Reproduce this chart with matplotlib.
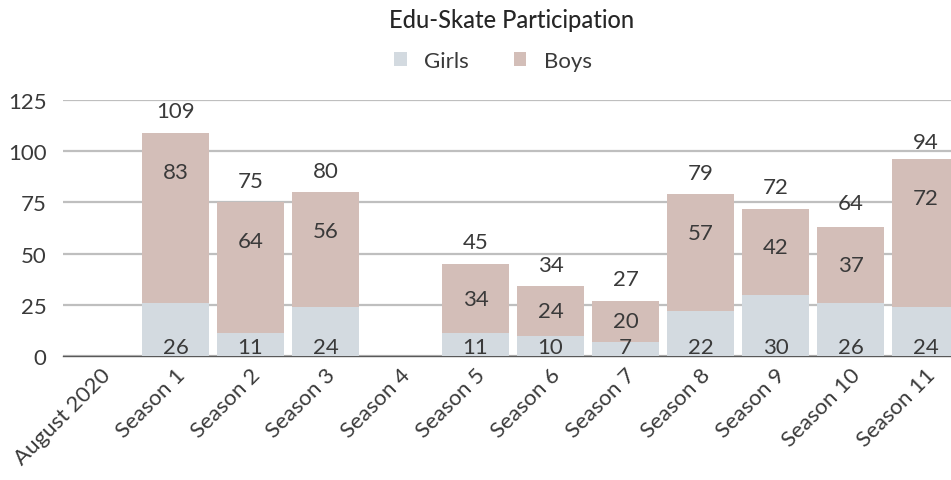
import numpy as np
import matplotlib as mpl
mpl.use('Agg')
import matplotlib.pyplot as plt
from matplotlib.patches import Patch

categories = ["August 2020", "Season 1", "Season 2", "Season 3", "Season 4",
              "Season 5", "Season 6", "Season 7", "Season 8", "Season 9",
              "Season 10", "Season 11"]
girls = [0, 26, 11, 24, 0, 11, 10, 7, 22, 30, 26, 24]
boys = [0, 83, 64, 56, 0, 34, 24, 20, 57, 42, 37, 72]
totals = [None, 109, 75, 80, None, 45, 34, 27, 79, 72, 64, 94]
yticks = [0, 25, 50, 75, 100, 125]

GIRL_C = "#D3DAE0"
BOY_C = "#D3BEB8"
TXT = "#3A3A3A"

plt.rcParams['font.family'] = ['Lato', 'DejaVu Sans']

fig = plt.figure(figsize=(9.51, 4.81), dpi=100)
ax = fig.add_axes([63/951, 1-357/481, 900/951, 256/481])

x = np.arange(len(categories))
g = np.array(girls)
b = np.array(boys)
ax.bar(x, g, width=0.893, color=GIRL_C, zorder=2)
ax.bar(x, b, width=0.893, bottom=g, color=BOY_C, zorder=2)

fs = 16
W = 'normal'
for i in range(len(categories)):
  if girls[i] > 0:
    ax.text(x[i], 4.5, str(girls[i]), ha='center', va='center', fontsize=fs,
            fontweight=W, color=TXT, zorder=3)
  if boys[i] > 0:
    top = girls[i] + boys[i]
    ypos = max(top - 19, girls[i] + boys[i] / 2.0)
    ax.text(x[i], ypos, str(boys[i]), ha='center', va='center', fontsize=fs,
            fontweight=W, color=TXT, zorder=3)
  if totals[i] is not None:
    ax.text(x[i], totals[i] + 10.5, str(totals[i]), ha='center', va='center',
            fontsize=fs, fontweight=W, color=TXT, zorder=3)

ax.set_xlim(-0.5, len(categories) - 0.5)
ax.set_ylim(0, 125)
ax.set_yticks(yticks)
ax.set_yticklabels([str(v) for v in yticks], fontsize=fs, fontweight=W, color=TXT)
ax.set_xticks(x)
ax.set_xticklabels(categories, rotation=45, ha='right', rotation_mode='anchor',
                   fontsize=fs, fontweight=W, color=TXT)
ax.tick_params(axis='both', length=0)
ax.tick_params(axis='y', pad=12)
ax.tick_params(axis='x', pad=6)

ax.yaxis.grid(True, color='#BFBFBF', linewidth=1.6, zorder=0)
ax.set_axisbelow(True)
for s in ['top', 'right', 'left']:
  ax.spines[s].set_visible(False)
ax.spines['bottom'].set_color('#595959')
ax.spines['bottom'].set_linewidth(1.0)
ax.spines['bottom'].set_zorder(1)

fig.text(512/951, 1-20/481, "Edu-Skate Participation", ha='center', va='center',
         fontsize=17, fontweight='medium', color='#262626')

handles = [Patch(facecolor=GIRL_C, label='Girls'), Patch(facecolor=BOY_C, label='Boys')]
fig.legend(handles=handles, loc='center', bbox_to_anchor=(493/951, 1-62/481), ncol=2,
           frameon=False, handlelength=0.55, handleheight=0.55,
           handletextpad=0.8, columnspacing=2.0,
           prop={'size': fs, 'weight': W})
for t in fig.legends[0].get_texts():
  t.set_color(TXT)

fig.savefig("out.png", dpi=100)
